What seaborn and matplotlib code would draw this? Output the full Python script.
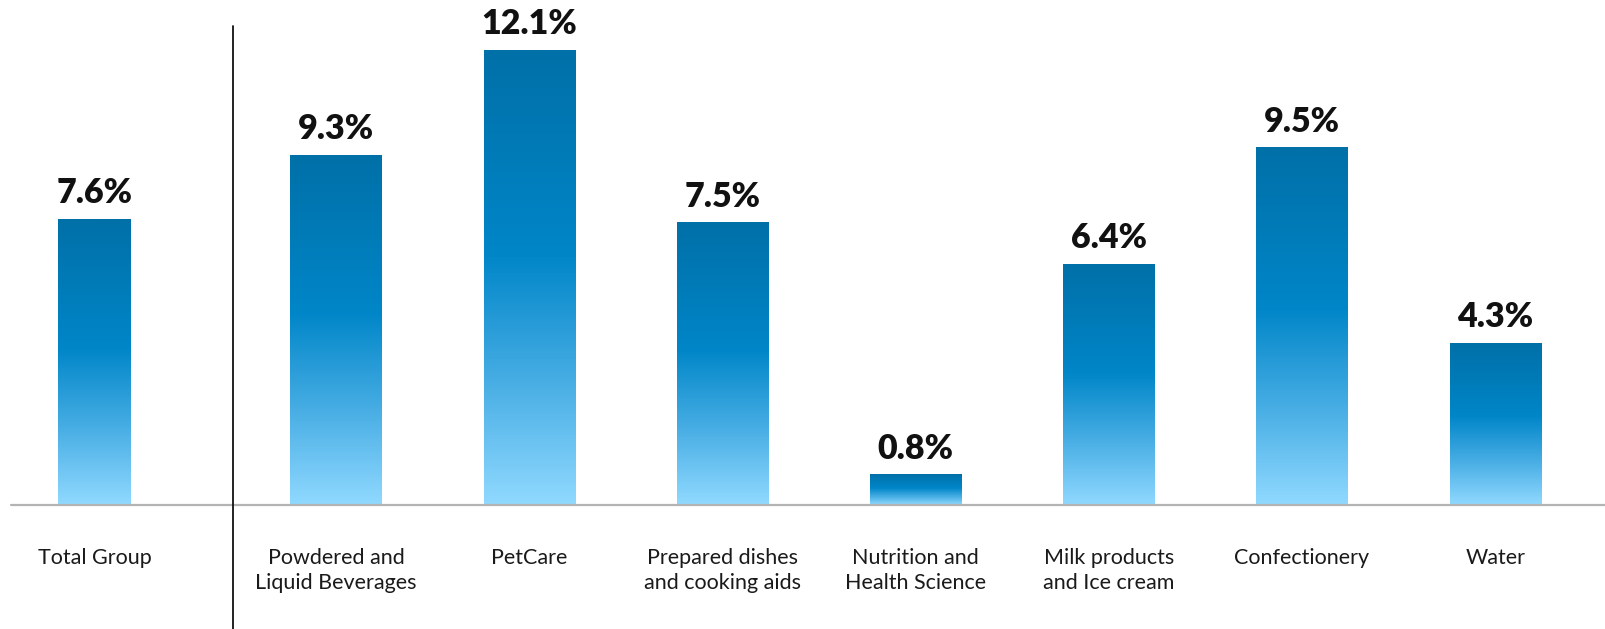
import numpy as np
import matplotlib
matplotlib.use("Agg")
import matplotlib.pyplot as plt
import seaborn as sns
import pandas as pd
from matplotlib.colors import LinearSegmentedColormap
from matplotlib.lines import Line2D

# Organic growth by segment (%)
total_label = ["Total Group"]
total_value = [7.6]
categories = [
    "Powdered and\nLiquid Beverages",
    "PetCare",
    "Prepared dishes\nand cooking aids",
    "Nutrition and\nHealth Science",
    "Milk products\nand Ice cream",
    "Confectionery",
    "Water",
]
growth = [9.3, 12.1, 7.5, 0.8, 6.4, 9.5, 4.3]

sns.set_theme(style="white")
plt.rcParams["font.family"] = ["Lato", "DejaVu Sans"]

W, H = 1606, 629
fig = plt.figure(figsize=(W / 100, H / 100), dpi=100)

base_px = 124          # baseline height from figure bottom
px_per_unit = 37.6     # vertical scale
slot_px = 193.2        # horizontal distance between category centres
div_px = 233.5         # divider between total and segments
ymax = (H - base_px) / px_per_unit

ax_l = fig.add_axes([0, base_px / H, div_px / W, 1 - base_px / H])
ax_r = fig.add_axes([div_px / W, base_px / H, 1 - div_px / W, 1 - base_px / H])

df_total = pd.DataFrame({"segment": total_label, "value": total_value})
df_seg = pd.DataFrame({"segment": categories, "value": growth})

sns.barplot(data=df_total, x="segment", y="value", ax=ax_l, width=0.376,
            color="#0085C8", saturation=1, errorbar=None)
sns.barplot(data=df_seg, x="segment", y="value", ax=ax_r, width=0.472,
            color="#0085C8", saturation=1, errorbar=None)

cmap = LinearSegmentedColormap.from_list(
    "bar_grad", [(0.0, "#0070A8"), (0.45, "#0086C8"), (0.72, "#45ACE3"), (1.0, "#90D9FF")]
)
grad = np.linspace(0, 1, 256).reshape(-1, 1)

def gradient_bars(ax, values):
    for p, v in zip(ax.patches, values):
        x0, y0 = p.get_x(), p.get_y()
        w, h = p.get_width(), p.get_height()
        ax.imshow(grad, cmap=cmap, extent=[x0, x0 + w, y0, y0 + h],
                  origin="upper", aspect="auto", zorder=2, interpolation="bilinear")
        p.set_facecolor("none")
        p.set_edgecolor("none")
        ax.annotate(f"{v:.1f}%", (x0 + w / 2, y0 + h), xytext=(0, 11.5),
                    textcoords="offset points", ha="center", va="baseline",
                    fontsize=24.5, fontweight="heavy", color="#111111")

gradient_bars(ax_l, total_value)
gradient_bars(ax_r, growth)

# horizontal layout in category units
c0_l = 94.7
ax_l.set_xlim(-c0_l / slot_px, (div_px - c0_l) / slot_px)
c0_r = 336.0 - div_px
ax_r.set_xlim(-c0_r / slot_px, (W - div_px - c0_r) / slot_px)

for ax, labels in ((ax_l, total_label), (ax_r, categories)):
    ax.set_ylim(0, ymax)
    ax.set_xlabel("")
    ax.set_ylabel("")
    ax.set_yticks([])
    ax.set_xticks(range(len(labels)))
    ax.set_xticklabels(labels, fontsize=15.5, color="#1a1a1a", linespacing=1.28)
    ax.tick_params(axis="x", length=0, pad=31)
    for s in ax.spines.values():
        s.set_visible(False)
    ax.patch.set_alpha(0)

# baseline and divider
fig.add_artist(Line2D([11 / W, 1], [base_px / H, base_px / H], transform=fig.transFigure,
                      color="#B4B4B4", lw=1.6, zorder=5))
fig.add_artist(Line2D([div_px / W, div_px / W], [0, 1 - 25.6 / H], transform=fig.transFigure,
                      color="#111111", lw=1.3, zorder=5))

fig.savefig("out.png", dpi=100, facecolor="white")
